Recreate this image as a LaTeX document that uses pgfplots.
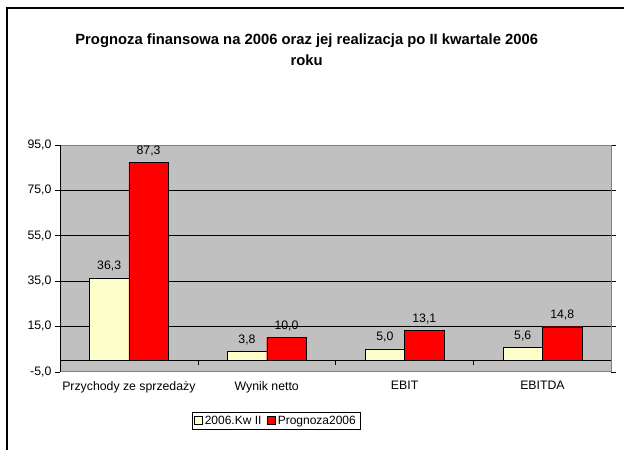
\documentclass[border=0pt]{standalone}
\usepackage{pgfplots}
\pgfplotsset{compat=1.18}
\usepackage{fontspec}
\setmainfont{Liberation Sans}
\definecolor{cream}{HTML}{FFFFCC}
\definecolor{plotbg}{HTML}{C0C0C0}
\definecolor{bordergray}{HTML}{808080}
\begin{document}
\begin{tikzpicture}[x=1pt,y=1pt]
\path (0,0) rectangle (625,450);
\draw[line width=1.2pt] (7,0) -- (7,442) -- (625,442);
\node[font=\bfseries\fontsize{14.8}{21}\selectfont, align=center] at (307,400) {Prognoza finansowa na 2006 oraz jej realizacja po II kwartale 2006\\roku};
\begin{axis}[
  at={(60pt,78pt)}, anchor=south west,
  scale only axis, width=552pt, height=227pt,
  ymin=-5, ymax=95, xmin=-0.5, xmax=3.5,
  ytick={-5,15,35,55,75,95},
  xtick={0,1,2,3},
  xticklabels={Przychody ze sprzedaży, Wynik netto, EBIT, EBITDA},
  x tick style={draw=none},
  y tick style={black},
  tick align=outside, major tick length=5pt,
  ybar=0pt, bar width=39.5pt,
  axis background/.style={fill=plotbg},
  axis line style={bordergray},
  ymajorgrids, grid style={black, line width=0.6pt},
  extra y ticks={0}, extra y tick labels={},
  extra y tick style={grid=major, major tick length=0pt, grid style={black, line width=0.8pt}},
  /pgf/number format/assume math mode=true,
  yticklabel style={font=\fontsize{12.3}{14}\selectfont, /pgf/number format/.cd, use comma, fixed, fixed zerofill, precision=1},
  xticklabel style={font=\fontsize{12.3}{14}\selectfont, yshift=-1pt},
  nodes near coords,
  nodes near coords style={font=\fontsize{12.3}{14}\selectfont, black, anchor=south, yshift=3pt, /pgf/number format/.cd, use comma, fixed, fixed zerofill, precision=1},
  legend columns=2,
  legend style={at={(0.392,-0.216)}, anchor=center, draw=black, font=\fontsize{12}{14}\selectfont, inner sep=2pt, /tikz/every even column/.append style={column sep=4pt}},
  legend image code/.code={\draw[#1] (0pt,-4pt) rectangle (8pt,4pt);},
]
\addplot[fill=cream, draw=black] coordinates {(0,36.3) (1,3.8) (2,5.0) (3,5.6)};
\addplot[fill=red, draw=black] coordinates {(0,87.3) (1,10.0) (2,13.1) (3,14.8)};
\legend{2006.Kw II, Prognoza2006}
\draw[black] (axis cs:-0.5,-5) -- (axis cs:-0.5,95);
\draw[black] (axis cs:0.5,0) -- ([yshift=-5pt]axis cs:0.5,0);
\draw[black] (axis cs:1.5,0) -- ([yshift=-5pt]axis cs:1.5,0);
\draw[black] (axis cs:2.5,0) -- ([yshift=-5pt]axis cs:2.5,0);
\end{axis}
\end{tikzpicture}
\end{document}
